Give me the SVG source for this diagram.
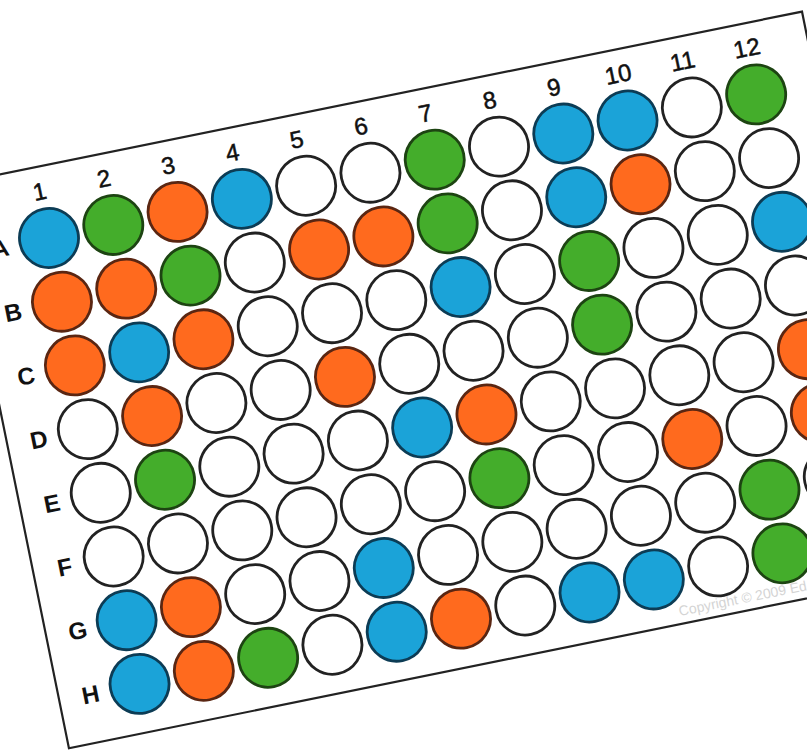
<svg xmlns="http://www.w3.org/2000/svg" width="807" height="753" viewBox="0 0 807 753">
<style>
.w{fill:#ffffff;stroke:#222;stroke-width:2.8}
.b{fill:#1ba3d8;stroke:#0c3c55;stroke-width:2.8}
.o{fill:#ff6a1e;stroke:#5a2612;stroke-width:2.8}
.g{fill:#44ad2b;stroke:#1d4412;stroke-width:2.8}
.num{font-family:"Liberation Sans",Arial,sans-serif;font-size:24px;fill:#111;stroke:#111;stroke-width:0.5;text-anchor:middle}
.let{font-family:"Liberation Sans",Arial,sans-serif;font-size:24px;font-weight:bold;fill:#111;text-anchor:middle}
.copy{font-family:"Liberation Sans",Arial,sans-serif;font-size:14px;fill:#d4d4d4}
</style>
<rect width="807" height="753" fill="#fff"/>
<g id="plate" transform="translate(49,238) rotate(-11.48)">
<rect x="-82" y="-72" width="865" height="576" fill="#fff" stroke="#222" stroke-width="2.2"/>
<g id="column-labels">
<text class="num" x="0" y="-39">1</text>
<text class="num" x="65.6" y="-39">2</text>
<text class="num" x="131.2" y="-39">3</text>
<text class="num" x="196.8" y="-39">4</text>
<text class="num" x="262.4" y="-39">5</text>
<text class="num" x="328" y="-39">6</text>
<text class="num" x="393.6" y="-39">7</text>
<text class="num" x="459.2" y="-39">8</text>
<text class="num" x="524.8" y="-39">9</text>
<text class="num" x="590.4" y="-39">10</text>
<text class="num" x="656" y="-39">11</text>
<text class="num" x="721.6" y="-39">12</text>
</g>
<g id="row-labels">
<text class="let" x="-50" y="9">A</text>
<text class="let" x="-50" y="74">B</text>
<text class="let" x="-50" y="139">C</text>
<text class="let" x="-50" y="204">D</text>
<text class="let" x="-50" y="269">E</text>
<text class="let" x="-50" y="334">F</text>
<text class="let" x="-50" y="399">G</text>
<text class="let" x="-50" y="464">H</text>
</g>
<g id="row-A">
<circle class="b" cx="0" cy="0" r="29.5"/>
<circle class="g" cx="65.6" cy="0" r="29.5"/>
<circle class="o" cx="131.2" cy="0" r="29.5"/>
<circle class="b" cx="196.8" cy="0" r="29.5"/>
<circle class="w" cx="262.4" cy="0" r="29.5"/>
<circle class="w" cx="328" cy="0" r="29.5"/>
<circle class="g" cx="393.6" cy="0" r="29.5"/>
<circle class="w" cx="459.2" cy="0" r="29.5"/>
<circle class="b" cx="524.8" cy="0" r="29.5"/>
<circle class="b" cx="590.4" cy="0" r="29.5"/>
<circle class="w" cx="656" cy="0" r="29.5"/>
<circle class="g" cx="721.6" cy="0" r="29.5"/>
</g>
<g id="row-B">
<circle class="o" cx="0" cy="65" r="29.5"/>
<circle class="o" cx="65.6" cy="65" r="29.5"/>
<circle class="g" cx="131.2" cy="65" r="29.5"/>
<circle class="w" cx="196.8" cy="65" r="29.5"/>
<circle class="o" cx="262.4" cy="65" r="29.5"/>
<circle class="o" cx="328" cy="65" r="29.5"/>
<circle class="g" cx="393.6" cy="65" r="29.5"/>
<circle class="w" cx="459.2" cy="65" r="29.5"/>
<circle class="b" cx="524.8" cy="65" r="29.5"/>
<circle class="o" cx="590.4" cy="65" r="29.5"/>
<circle class="w" cx="656" cy="65" r="29.5"/>
<circle class="w" cx="721.6" cy="65" r="29.5"/>
</g>
<g id="row-C">
<circle class="o" cx="0" cy="130" r="29.5"/>
<circle class="b" cx="65.6" cy="130" r="29.5"/>
<circle class="o" cx="131.2" cy="130" r="29.5"/>
<circle class="w" cx="196.8" cy="130" r="29.5"/>
<circle class="w" cx="262.4" cy="130" r="29.5"/>
<circle class="w" cx="328" cy="130" r="29.5"/>
<circle class="b" cx="393.6" cy="130" r="29.5"/>
<circle class="w" cx="459.2" cy="130" r="29.5"/>
<circle class="g" cx="524.8" cy="130" r="29.5"/>
<circle class="w" cx="590.4" cy="130" r="29.5"/>
<circle class="w" cx="656" cy="130" r="29.5"/>
<circle class="b" cx="721.6" cy="130" r="29.5"/>
</g>
<g id="row-D">
<circle class="w" cx="0" cy="195" r="29.5"/>
<circle class="o" cx="65.6" cy="195" r="29.5"/>
<circle class="w" cx="131.2" cy="195" r="29.5"/>
<circle class="w" cx="196.8" cy="195" r="29.5"/>
<circle class="o" cx="262.4" cy="195" r="29.5"/>
<circle class="w" cx="328" cy="195" r="29.5"/>
<circle class="w" cx="393.6" cy="195" r="29.5"/>
<circle class="w" cx="459.2" cy="195" r="29.5"/>
<circle class="g" cx="524.8" cy="195" r="29.5"/>
<circle class="w" cx="590.4" cy="195" r="29.5"/>
<circle class="w" cx="656" cy="195" r="29.5"/>
<circle class="w" cx="721.6" cy="195" r="29.5"/>
</g>
<g id="row-E">
<circle class="w" cx="0" cy="260" r="29.5"/>
<circle class="g" cx="65.6" cy="260" r="29.5"/>
<circle class="w" cx="131.2" cy="260" r="29.5"/>
<circle class="w" cx="196.8" cy="260" r="29.5"/>
<circle class="w" cx="262.4" cy="260" r="29.5"/>
<circle class="b" cx="328" cy="260" r="29.5"/>
<circle class="o" cx="393.6" cy="260" r="29.5"/>
<circle class="w" cx="459.2" cy="260" r="29.5"/>
<circle class="w" cx="524.8" cy="260" r="29.5"/>
<circle class="w" cx="590.4" cy="260" r="29.5"/>
<circle class="w" cx="656" cy="260" r="29.5"/>
<circle class="o" cx="721.6" cy="260" r="29.5"/>
</g>
<g id="row-F">
<circle class="w" cx="0" cy="325" r="29.5"/>
<circle class="w" cx="65.6" cy="325" r="29.5"/>
<circle class="w" cx="131.2" cy="325" r="29.5"/>
<circle class="w" cx="196.8" cy="325" r="29.5"/>
<circle class="w" cx="262.4" cy="325" r="29.5"/>
<circle class="w" cx="328" cy="325" r="29.5"/>
<circle class="g" cx="393.6" cy="325" r="29.5"/>
<circle class="w" cx="459.2" cy="325" r="29.5"/>
<circle class="w" cx="524.8" cy="325" r="29.5"/>
<circle class="o" cx="590.4" cy="325" r="29.5"/>
<circle class="w" cx="656" cy="325" r="29.5"/>
<circle class="o" cx="721.6" cy="325" r="29.5"/>
</g>
<g id="row-G">
<circle class="b" cx="0" cy="390" r="29.5"/>
<circle class="o" cx="65.6" cy="390" r="29.5"/>
<circle class="w" cx="131.2" cy="390" r="29.5"/>
<circle class="w" cx="196.8" cy="390" r="29.5"/>
<circle class="b" cx="262.4" cy="390" r="29.5"/>
<circle class="w" cx="328" cy="390" r="29.5"/>
<circle class="w" cx="393.6" cy="390" r="29.5"/>
<circle class="w" cx="459.2" cy="390" r="29.5"/>
<circle class="w" cx="524.8" cy="390" r="29.5"/>
<circle class="w" cx="590.4" cy="390" r="29.5"/>
<circle class="g" cx="656" cy="390" r="29.5"/>
<circle class="w" cx="721.6" cy="390" r="29.5"/>
</g>
<g id="row-H">
<circle class="b" cx="0" cy="455" r="29.5"/>
<circle class="o" cx="65.6" cy="455" r="29.5"/>
<circle class="g" cx="131.2" cy="455" r="29.5"/>
<circle class="w" cx="196.8" cy="455" r="29.5"/>
<circle class="b" cx="262.4" cy="455" r="29.5"/>
<circle class="o" cx="328" cy="455" r="29.5"/>
<circle class="w" cx="393.6" cy="455" r="29.5"/>
<circle class="b" cx="459.2" cy="455" r="29.5"/>
<circle class="b" cx="524.8" cy="455" r="29.5"/>
<circle class="w" cx="590.4" cy="455" r="29.5"/>
<circle class="g" cx="656" cy="455" r="29.5"/>
<circle class="w" cx="721.6" cy="455" r="29.5"/>
</g>
<text class="copy" x="543" y="496">Copyright © 2009 Ed</text>
</g>
</svg>
